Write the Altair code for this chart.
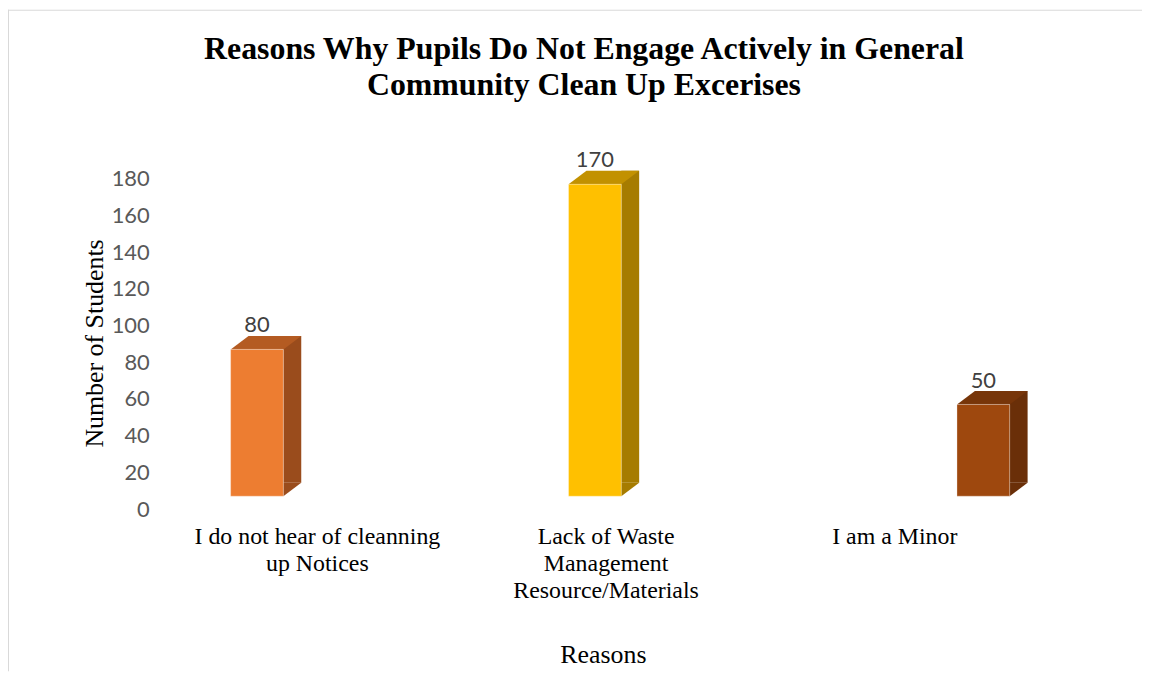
import altair as alt
import pandas as pd

# ---- data ----
categories = [
    "I do not hear of cleanning\nup Notices",
    "Lack of Waste\nManagement\nResource/Materials",
    "I am a Minor",
]
values = [80, 170, 50]
y_ticks = [0, 20, 40, 60, 80, 100, 120, 140, 160, 180]
title_lines = [
    "Reasons Why Pupils Do Not Engage Actively in General",
    "Community Clean Up Excerises",
]
x_title = "Reasons"
y_title = "Number of Students"

front_colors = ["#ED7D31", "#FFC000", "#9E480E"]
top_colors = ["#B45B22", "#C29100", "#773509"]
side_colors = ["#9A4C1C", "#A67C00", "#6A2F08"]

df = pd.DataFrame({"cat": categories, "value": values})
df["idx"] = list(range(len(categories)))  # position of each category along the (perspective) depth axis

W, H = 940, 332
PAD = {"left": 152, "top": 170, "right": 48, "bottom": 163}

serif = "Liberation Serif"
sans = "Lato"

# perspective-like spacing of the 3-D bars (Excel 3-D column chart)
bar_x = alt.X(
    "idx:Q",
    scale=alt.Scale(type="pow", exponent=1.104, domain=[0, 2], range=[93.3, 833.5], zero=False, nice=False),
    axis=None,
)
y_axis = alt.Axis(
    values=y_ticks, grid=False, domain=False, ticks=False, tickSize=0, labelOverlap=False,
    labelFont=sans, labelFontSize=22, labelColor="#595959", labelPadding=10,
    title=y_title, titleFont=serif, titleFontSize=26, titleFontWeight="normal",
    titleColor="#000000", titleX=-57, titleY=165, titleBaseline="alphabetic", titleAngle=270,
)
y_scale = alt.Scale(domain=[0, 180], nice=False, zero=True)
y_enc = alt.Y("value:Q", scale=y_scale, axis=y_axis)

def col(rng):
    return alt.Color("cat:N", scale=alt.Scale(domain=categories, range=rng), legend=None)

base = alt.Chart(df)

side = base.mark_bar(size=18, xOffset=35.5, yOffset=-26.5, strokeWidth=0).encode(
    x=bar_x, y=y_enc, color=col(side_colors)
)
side_tri = base.mark_point(
    shape="M26.5,-13L26.5,-26.5L44.5,-26.5Z", size=4, filled=True, opacity=1
).encode(x=bar_x, y=alt.Y(datum=0, scale=y_scale, axis=y_axis), color=col(side_colors))
top = base.mark_point(
    shape="M-26.5,-13L26.5,-13L44.5,-26.5L-8.5,-26.5Z", size=4, filled=True, opacity=1
).encode(x=bar_x, y=y_enc, color=col(top_colors))
front = base.mark_bar(size=53, yOffset=-13, stroke="#FFFFFF", strokeOpacity=0.3, strokeWidth=1).encode(
    x=bar_x, y=y_enc, color=col(front_colors)
)
vlabels = base.mark_text(dy=-37, baseline="middle", font=sans, fontSize=22, color="#404040").encode(
    x=bar_x, y=y_enc, text="value:Q"
)

bars = alt.layer(side, side_tri, top, front, vlabels).resolve_scale(color="independent")

xlabels = base.mark_point(opacity=0).encode(
    x=alt.X(
        "cat:N",
        scale=alt.Scale(type="point", domain=categories, range=[158.5, 739], padding=0),
        axis=alt.Axis(
            orient="bottom", domain=False, ticks=False, tickSize=0, grid=False, labelAngle=0,
            labelExpr="split(datum.label, '\\n')", labelFont=serif, labelFontSize=24,
            labelColor="#000000", labelLineHeight=27, labelPadding=16, labelLimit=400,
            title=x_title, titleFont=serif, titleFontSize=26, titleFontWeight="normal",
            titleColor="#000000", titleX=446, titleY=154, titleBaseline="alphabetic",
        ),
    )
)

border = alt.Chart(alt.Data(values=[{}]))
border_top = border.mark_rule(color="#D9D9D9", strokeWidth=1).encode(
    x=alt.value(-152), x2=alt.value(W + PAD["right"]), y=alt.value(-169.5)
)
border_left = border.mark_rule(color="#D9D9D9", strokeWidth=1).encode(
    x=alt.value(-151.5), y=alt.value(-170), y2=alt.value(H + PAD["bottom"])
)

chart = (
    alt.layer(border_top, border_left, bars, xlabels)
    .resolve_scale(x="independent")
    .properties(
        width=W, height=H,
        autosize=alt.AutoSizeParams(type="none"),
        padding=PAD,
        title=alt.TitleParams(
            text=title_lines, font=serif, fontSize=32, fontWeight="bold", color="#000000",
            anchor="middle", frame="group", dx=-43, dy=118.6, offset=0, baseline="alphabetic",
            lineHeight=37,
        ),
    )
    .configure(
        background="#FFFFFF",
        view=alt.ViewConfig(stroke=None),
        axisY=alt.AxisConfig(labelOverlap=False, labelBound=False),
    )
)

chart.save("out.html", embed_options={"renderer": "svg", "actions": False})
